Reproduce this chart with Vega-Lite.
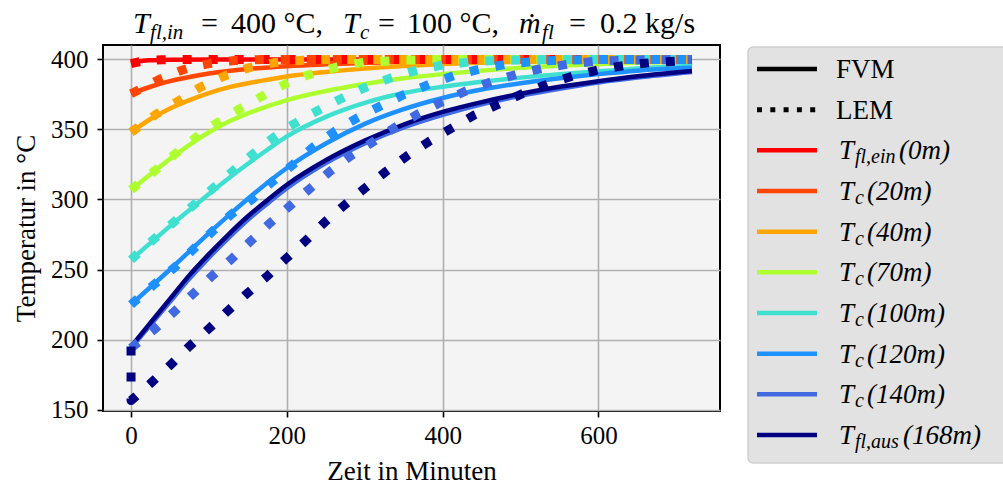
{
  "$schema": "https://vega.github.io/schema/vega-lite/v6.json",
  "autosize": {"type": "none"},
  "width": 617,
  "height": 366,
  "padding": {"left": 103, "top": 45, "right": 283, "bottom": 77},
  "background": "white",
  "config": {
    "view": {"stroke": "black", "strokeWidth": 2, "fill": "#f4f4f4"},
    "axis": {"labelFont": "Liberation Serif", "labelFontSize": 25, "labelColor": "black", "titleFont": "Liberation Serif", "titleFontSize": 27, "titleFontWeight": "normal", "titleColor": "black", "tickColor": "black", "tickWidth": 1.6, "tickSize": 6, "gridColor": "#b0b0b0", "gridWidth": 1.6, "gridOpacity": 1, "domain": false, "labelFlush": false, "labelOverlap": false},
    "text": {"font": "Liberation Serif", "color": "black"}
  },
  "datasets": {
    "curves": [
      {"s":"0m","m":"FVM","t":0,"T":397},{"s":"0m","m":"FVM","t":10,"T":398.6},{"s":"0m","m":"FVM","t":25,"T":399.4},{"s":"0m","m":"FVM","t":50,"T":399.8},{"s":"0m","m":"FVM","t":100,"T":400},{"s":"0m","m":"FVM","t":720,"T":400},
      {"s":"0m","m":"LEM","t":0,"T":397},{"s":"0m","m":"LEM","t":15,"T":399},{"s":"0m","m":"LEM","t":40,"T":399.8},{"s":"0m","m":"LEM","t":100,"T":400},{"s":"0m","m":"LEM","t":720,"T":400},
      {"s":"20m","m":"FVM","t":0,"T":375.5},{"s":"20m","m":"FVM","t":25,"T":380.5},{"s":"20m","m":"FVM","t":50,"T":384.5},{"s":"20m","m":"FVM","t":75,"T":387.5},{"s":"20m","m":"FVM","t":100,"T":390},{"s":"20m","m":"FVM","t":125,"T":391.8},{"s":"20m","m":"FVM","t":150,"T":393.2},{"s":"20m","m":"FVM","t":200,"T":395.2},{"s":"20m","m":"FVM","t":250,"T":396.5},{"s":"20m","m":"FVM","t":300,"T":397.5},{"s":"20m","m":"FVM","t":400,"T":398.7},{"s":"20m","m":"FVM","t":500,"T":399.3},{"s":"20m","m":"FVM","t":720,"T":399.8},
      {"s":"20m","m":"LEM","t":0,"T":375.5},{"s":"20m","m":"LEM","t":20,"T":381},{"s":"20m","m":"LEM","t":35,"T":385.4},{"s":"20m","m":"LEM","t":50,"T":389},{"s":"20m","m":"LEM","t":65,"T":392.3},{"s":"20m","m":"LEM","t":80,"T":394.8},{"s":"20m","m":"LEM","t":100,"T":397},{"s":"20m","m":"LEM","t":133,"T":399.2},{"s":"20m","m":"LEM","t":170,"T":399.9},{"s":"20m","m":"LEM","t":720,"T":400},
      {"s":"40m","m":"FVM","t":0,"T":348},{"s":"40m","m":"FVM","t":25,"T":357.5},{"s":"40m","m":"FVM","t":50,"T":365},{"s":"40m","m":"FVM","t":75,"T":371},{"s":"40m","m":"FVM","t":100,"T":376},{"s":"40m","m":"FVM","t":125,"T":380},{"s":"40m","m":"FVM","t":150,"T":383},{"s":"40m","m":"FVM","t":175,"T":385.5},{"s":"40m","m":"FVM","t":200,"T":387.8},{"s":"40m","m":"FVM","t":250,"T":391},{"s":"40m","m":"FVM","t":300,"T":393.5},{"s":"40m","m":"FVM","t":350,"T":395.3},{"s":"40m","m":"FVM","t":400,"T":396.7},{"s":"40m","m":"FVM","t":500,"T":398.4},{"s":"40m","m":"FVM","t":600,"T":399.3},{"s":"40m","m":"FVM","t":720,"T":399.7},
      {"s":"40m","m":"LEM","t":0,"T":348},{"s":"40m","m":"LEM","t":31,"T":360.4},{"s":"40m","m":"LEM","t":61,"T":370.4},{"s":"40m","m":"LEM","t":88,"T":379.9},{"s":"40m","m":"LEM","t":120,"T":388.2},{"s":"40m","m":"LEM","t":152,"T":394.2},{"s":"40m","m":"LEM","t":185,"T":397.8},{"s":"40m","m":"LEM","t":220,"T":399.4},{"s":"40m","m":"LEM","t":260,"T":400},{"s":"40m","m":"LEM","t":720,"T":400},
      {"s":"70m","m":"FVM","t":0,"T":307},{"s":"70m","m":"FVM","t":25,"T":318},{"s":"70m","m":"FVM","t":50,"T":329},{"s":"70m","m":"FVM","t":75,"T":339},{"s":"70m","m":"FVM","t":100,"T":348},{"s":"70m","m":"FVM","t":125,"T":355.5},{"s":"70m","m":"FVM","t":150,"T":361.5},{"s":"70m","m":"FVM","t":175,"T":366.5},{"s":"70m","m":"FVM","t":200,"T":371},{"s":"70m","m":"FVM","t":250,"T":377.5},{"s":"70m","m":"FVM","t":300,"T":382.5},{"s":"70m","m":"FVM","t":350,"T":386.5},{"s":"70m","m":"FVM","t":400,"T":389.5},{"s":"70m","m":"FVM","t":450,"T":392},{"s":"70m","m":"FVM","t":500,"T":394},{"s":"70m","m":"FVM","t":550,"T":395.5},{"s":"70m","m":"FVM","t":600,"T":396.7},{"s":"70m","m":"FVM","t":650,"T":397.6},{"s":"70m","m":"FVM","t":720,"T":398.5},
      {"s":"70m","m":"LEM","t":0,"T":307},{"s":"70m","m":"LEM","t":25,"T":318},{"s":"70m","m":"LEM","t":50,"T":329.5},{"s":"70m","m":"LEM","t":75,"T":341},{"s":"70m","m":"LEM","t":100,"T":351},{"s":"70m","m":"LEM","t":125,"T":360},{"s":"70m","m":"LEM","t":150,"T":368},{"s":"70m","m":"LEM","t":175,"T":376},{"s":"70m","m":"LEM","t":200,"T":383},{"s":"70m","m":"LEM","t":225,"T":388.5},{"s":"70m","m":"LEM","t":250,"T":392.5},{"s":"70m","m":"LEM","t":275,"T":396},{"s":"70m","m":"LEM","t":300,"T":398},{"s":"70m","m":"LEM","t":350,"T":399.5},{"s":"70m","m":"LEM","t":400,"T":400},{"s":"70m","m":"LEM","t":720,"T":400},
      {"s":"100m","m":"FVM","t":0,"T":257},{"s":"100m","m":"FVM","t":25,"T":269},{"s":"100m","m":"FVM","t":50,"T":281},{"s":"100m","m":"FVM","t":75,"T":292.5},{"s":"100m","m":"FVM","t":100,"T":304},{"s":"100m","m":"FVM","t":125,"T":315},{"s":"100m","m":"FVM","t":150,"T":325.5},{"s":"100m","m":"FVM","t":175,"T":335.5},{"s":"100m","m":"FVM","t":200,"T":345},{"s":"100m","m":"FVM","t":250,"T":359},{"s":"100m","m":"FVM","t":300,"T":369},{"s":"100m","m":"FVM","t":350,"T":376},{"s":"100m","m":"FVM","t":400,"T":380.5},{"s":"100m","m":"FVM","t":450,"T":384},{"s":"100m","m":"FVM","t":500,"T":387},{"s":"100m","m":"FVM","t":550,"T":389.5},{"s":"100m","m":"FVM","t":600,"T":391.5},{"s":"100m","m":"FVM","t":650,"T":393.5},{"s":"100m","m":"FVM","t":720,"T":395.5},
      {"s":"100m","m":"LEM","t":0,"T":257},{"s":"100m","m":"LEM","t":25,"T":269.5},{"s":"100m","m":"LEM","t":50,"T":281.5},{"s":"100m","m":"LEM","t":75,"T":293.5},{"s":"100m","m":"LEM","t":100,"T":305.5},{"s":"100m","m":"LEM","t":125,"T":317.5},{"s":"100m","m":"LEM","t":150,"T":329.5},{"s":"100m","m":"LEM","t":175,"T":341},{"s":"100m","m":"LEM","t":200,"T":351},{"s":"100m","m":"LEM","t":225,"T":359},{"s":"100m","m":"LEM","t":250,"T":366.5},{"s":"100m","m":"LEM","t":275,"T":373.5},{"s":"100m","m":"LEM","t":300,"T":379.8},{"s":"100m","m":"LEM","t":336,"T":387.3},{"s":"100m","m":"LEM","t":368,"T":392.5},{"s":"100m","m":"LEM","t":400,"T":396},{"s":"100m","m":"LEM","t":440,"T":398.5},{"s":"100m","m":"LEM","t":480,"T":399.5},{"s":"100m","m":"LEM","t":550,"T":400},{"s":"100m","m":"LEM","t":720,"T":400},
      {"s":"120m","m":"FVM","t":0,"T":225},{"s":"120m","m":"FVM","t":25,"T":237.5},{"s":"120m","m":"FVM","t":50,"T":250},{"s":"120m","m":"FVM","t":75,"T":263},{"s":"120m","m":"FVM","t":100,"T":276},{"s":"120m","m":"FVM","t":125,"T":288.5},{"s":"120m","m":"FVM","t":150,"T":300.5},{"s":"120m","m":"FVM","t":175,"T":312},{"s":"120m","m":"FVM","t":200,"T":322.5},{"s":"120m","m":"FVM","t":250,"T":340},{"s":"120m","m":"FVM","t":300,"T":354},{"s":"120m","m":"FVM","t":350,"T":364.5},{"s":"120m","m":"FVM","t":400,"T":372.5},{"s":"120m","m":"FVM","t":450,"T":378.5},{"s":"120m","m":"FVM","t":500,"T":383},{"s":"120m","m":"FVM","t":550,"T":386.5},{"s":"120m","m":"FVM","t":600,"T":389.5},{"s":"120m","m":"FVM","t":650,"T":392},{"s":"120m","m":"FVM","t":720,"T":394},
      {"s":"120m","m":"LEM","t":0,"T":225},{"s":"120m","m":"LEM","t":29,"T":239},{"s":"120m","m":"LEM","t":57,"T":252},{"s":"120m","m":"LEM","t":82,"T":265.5},{"s":"120m","m":"LEM","t":106,"T":278},{"s":"120m","m":"LEM","t":129,"T":289.5},{"s":"120m","m":"LEM","t":155,"T":300},{"s":"120m","m":"LEM","t":180,"T":312},{"s":"120m","m":"LEM","t":208,"T":325},{"s":"120m","m":"LEM","t":234,"T":337.5},{"s":"120m","m":"LEM","t":261,"T":348.5},{"s":"120m","m":"LEM","t":291,"T":358.4},{"s":"120m","m":"LEM","t":321,"T":367},{"s":"120m","m":"LEM","t":351,"T":375.1},{"s":"120m","m":"LEM","t":383,"T":382.3},{"s":"120m","m":"LEM","t":415,"T":388.5},{"s":"120m","m":"LEM","t":447,"T":393},{"s":"120m","m":"LEM","t":482,"T":396.6},{"s":"120m","m":"LEM","t":520,"T":398.8},{"s":"120m","m":"LEM","t":560,"T":399.6},{"s":"120m","m":"LEM","t":600,"T":400},{"s":"120m","m":"LEM","t":720,"T":400},
      {"s":"140m","m":"FVM","t":0,"T":194},{"s":"140m","m":"FVM","t":25,"T":210.5},{"s":"140m","m":"FVM","t":50,"T":227},{"s":"140m","m":"FVM","t":75,"T":243.5},{"s":"140m","m":"FVM","t":100,"T":258.5},{"s":"140m","m":"FVM","t":125,"T":272.5},{"s":"140m","m":"FVM","t":150,"T":285.5},{"s":"140m","m":"FVM","t":175,"T":297},{"s":"140m","m":"FVM","t":200,"T":308},{"s":"140m","m":"FVM","t":250,"T":326},{"s":"140m","m":"FVM","t":300,"T":340},{"s":"140m","m":"FVM","t":350,"T":351.5},{"s":"140m","m":"FVM","t":400,"T":360.5},{"s":"140m","m":"FVM","t":450,"T":368},{"s":"140m","m":"FVM","t":500,"T":374},{"s":"140m","m":"FVM","t":550,"T":379},{"s":"140m","m":"FVM","t":600,"T":383.5},{"s":"140m","m":"FVM","t":650,"T":387},{"s":"140m","m":"FVM","t":720,"T":391},
      {"s":"140m","m":"LEM","t":0,"T":194},{"s":"140m","m":"LEM","t":29,"T":206.8},{"s":"140m","m":"LEM","t":54,"T":219.2},{"s":"140m","m":"LEM","t":78,"T":231.8},{"s":"140m","m":"LEM","t":103,"T":244.9},{"s":"140m","m":"LEM","t":129,"T":257.5},{"s":"140m","m":"LEM","t":153,"T":270},{"s":"140m","m":"LEM","t":178,"T":283},{"s":"140m","m":"LEM","t":204,"T":295.5},{"s":"140m","m":"LEM","t":230,"T":308},{"s":"140m","m":"LEM","t":255,"T":319.9},{"s":"140m","m":"LEM","t":283,"T":331.5},{"s":"140m","m":"LEM","t":311,"T":341.3},{"s":"140m","m":"LEM","t":339,"T":351.5},{"s":"140m","m":"LEM","t":368,"T":361},{"s":"140m","m":"LEM","t":398,"T":369.4},{"s":"140m","m":"LEM","t":430,"T":377.5},{"s":"140m","m":"LEM","t":462,"T":384},{"s":"140m","m":"LEM","t":495,"T":389.4},{"s":"140m","m":"LEM","t":527,"T":393.5},{"s":"140m","m":"LEM","t":561,"T":396.6},{"s":"140m","m":"LEM","t":595,"T":398.6},{"s":"140m","m":"LEM","t":640,"T":399.6},{"s":"140m","m":"LEM","t":720,"T":400},
      {"s":"168m","m":"FVM","t":0,"T":195},{"s":"168m","m":"FVM","t":25,"T":212},{"s":"168m","m":"FVM","t":50,"T":229},{"s":"168m","m":"FVM","t":75,"T":246},{"s":"168m","m":"FVM","t":100,"T":261},{"s":"168m","m":"FVM","t":125,"T":275},{"s":"168m","m":"FVM","t":150,"T":288},{"s":"168m","m":"FVM","t":175,"T":299.5},{"s":"168m","m":"FVM","t":200,"T":310.5},{"s":"168m","m":"FVM","t":250,"T":328},{"s":"168m","m":"FVM","t":300,"T":342},{"s":"168m","m":"FVM","t":350,"T":353.5},{"s":"168m","m":"FVM","t":400,"T":362.5},{"s":"168m","m":"FVM","t":450,"T":369.5},{"s":"168m","m":"FVM","t":500,"T":375.5},{"s":"168m","m":"FVM","t":550,"T":380.5},{"s":"168m","m":"FVM","t":600,"T":384.5},{"s":"168m","m":"FVM","t":650,"T":388},{"s":"168m","m":"FVM","t":720,"T":391.8},
      {"s":"168m","m":"LEM","t":0,"T":195},{"s":"168m","m":"LEM","t":0,"T":156.5},{"s":"168m","m":"LEM","t":24,"T":168.2},{"s":"168m","m":"LEM","t":49,"T":181},{"s":"168m","m":"LEM","t":73,"T":194.2},{"s":"168m","m":"LEM","t":98,"T":206.8},{"s":"168m","m":"LEM","t":123,"T":219.9},{"s":"168m","m":"LEM","t":148,"T":232.5},{"s":"168m","m":"LEM","t":174,"T":244.9},{"s":"168m","m":"LEM","t":198,"T":257.3},{"s":"168m","m":"LEM","t":224,"T":270.5},{"s":"168m","m":"LEM","t":249,"T":284},{"s":"168m","m":"LEM","t":274,"T":296},{"s":"168m","m":"LEM","t":300,"T":308},{"s":"168m","m":"LEM","t":327,"T":319.9},{"s":"168m","m":"LEM","t":354,"T":331},{"s":"168m","m":"LEM","t":382,"T":341.3},{"s":"168m","m":"LEM","t":411,"T":350.8},{"s":"168m","m":"LEM","t":441,"T":360.4},{"s":"168m","m":"LEM","t":472,"T":368},{"s":"168m","m":"LEM","t":504,"T":375.9},{"s":"168m","m":"LEM","t":535,"T":382.5},{"s":"168m","m":"LEM","t":567,"T":388.2},{"s":"168m","m":"LEM","t":600,"T":392.5},{"s":"168m","m":"LEM","t":633,"T":395.6},{"s":"168m","m":"LEM","t":667,"T":397.7},{"s":"168m","m":"LEM","t":702,"T":398.9},{"s":"168m","m":"LEM","t":720,"T":399.3}
    ],
    "legend": [
      {"s":"FVM","sub":"","p":""},
      {"s":"LEM","sub":"","p":""},
      {"s":"0m","sub":"fl,ein","p":"(0m)"},
      {"s":"20m","sub":"c","p":"(20m)"},
      {"s":"40m","sub":"c","p":"(40m)"},
      {"s":"70m","sub":"c","p":"(70m)"},
      {"s":"100m","sub":"c","p":"(100m)"},
      {"s":"120m","sub":"c","p":"(120m)"},
      {"s":"140m","sub":"c","p":"(140m)"},
      {"s":"168m","sub":"fl,aus","p":"(168m)"}
    ]
  },
  "resolve": {"scale": {"x": "independent", "y": "independent"}},
  "layer": [
    {
      "encoding": {
        "x": {"type": "quantitative", "scale": {"domain": [-36, 756], "nice": false, "zero": false}, "axis": {"values": [0, 200, 400, 600], "title": "Zeit in Minuten", "labelPadding": 6, "titlePadding": 10}},
        "y": {"type": "quantitative", "scale": {"domain": [149, 410.3], "nice": false, "zero": false}, "axis": {"values": [150, 200, 250, 300, 350, 400], "title": "Temperatur in °C", "labelPadding": 9, "titlePadding": 10}}
      },
      "layer": [
        {
          "data": {"name": "curves"},
          "transform": [{"filter": "datum.m === 'FVM'"}],
          "mark": {"type": "line", "strokeWidth": 4.5, "strokeCap": "butt", "interpolate": "monotone"},
          "encoding": {
            "x": {"field": "t", "type": "quantitative"},
            "y": {"field": "T", "type": "quantitative"},
            "color": {"field": "s", "type": "nominal", "scale": {"domain": ["0m","20m","40m","70m","100m","120m","140m","168m"], "range": ["#ff0000","#ff4500","#ffa500","#adff2f","#40e0d0","#1e90ff","#4169e1","#000080"]}, "legend": null},
            "order": {"value": null}
          }
        },
        {
          "data": {"name": "curves"},
          "transform": [{"filter": "datum.m === 'LEM'"}],
          "mark": {"type": "line", "strokeWidth": 9, "strokeDash": [9, 17], "strokeCap": "butt", "strokeJoin": "round", "interpolate": "linear"},
          "encoding": {
            "x": {"field": "t", "type": "quantitative"},
            "y": {"field": "T", "type": "quantitative"},
            "color": {"field": "s", "type": "nominal", "scale": {"domain": ["0m","20m","40m","70m","100m","120m","140m","168m"], "range": ["#ff0000","#ff4500","#ffa500","#adff2f","#40e0d0","#1e90ff","#4169e1","#000080"]}, "legend": null},
            "order": {"value": null}
          }
        },
        {"data": {"values": [{}]}, "mark": {"type": "text", "text": "T", "fontStyle": "italic", "fontSize": 30, "align": "left", "baseline": "alphabetic", "dx": 2}, "encoding": {"x": {"datum": 0, "type": "quantitative"}, "y": {"datum": 419, "type": "quantitative"}}},
        {"data": {"values": [{}]}, "mark": {"type": "text", "text": "fl,in", "fontStyle": "italic", "fontSize": 21, "align": "left", "baseline": "alphabetic", "dx": 19, "dy": 6}, "encoding": {"x": {"datum": 0, "type": "quantitative"}, "y": {"datum": 419, "type": "quantitative"}}},
        {"data": {"values": [{}]}, "mark": {"type": "text", "text": "=", "fontSize": 30, "align": "left", "baseline": "alphabetic", "dx": 70}, "encoding": {"x": {"datum": 0, "type": "quantitative"}, "y": {"datum": 419, "type": "quantitative"}}},
        {"data": {"values": [{}]}, "mark": {"type": "text", "text": "400 °C,", "fontSize": 30, "align": "left", "baseline": "alphabetic", "dx": 100}, "encoding": {"x": {"datum": 0, "type": "quantitative"}, "y": {"datum": 419, "type": "quantitative"}}},
        {"data": {"values": [{}]}, "mark": {"type": "text", "text": "T", "fontStyle": "italic", "fontSize": 30, "align": "left", "baseline": "alphabetic", "dx": 212}, "encoding": {"x": {"datum": 0, "type": "quantitative"}, "y": {"datum": 419, "type": "quantitative"}}},
        {"data": {"values": [{}]}, "mark": {"type": "text", "text": "c", "fontStyle": "italic", "fontSize": 21, "align": "left", "baseline": "alphabetic", "dx": 229, "dy": 6}, "encoding": {"x": {"datum": 0, "type": "quantitative"}, "y": {"datum": 419, "type": "quantitative"}}},
        {"data": {"values": [{}]}, "mark": {"type": "text", "text": "=", "fontSize": 30, "align": "left", "baseline": "alphabetic", "dx": 247}, "encoding": {"x": {"datum": 0, "type": "quantitative"}, "y": {"datum": 419, "type": "quantitative"}}},
        {"data": {"values": [{}]}, "mark": {"type": "text", "text": "100 °C,", "fontSize": 30, "align": "left", "baseline": "alphabetic", "dx": 276}, "encoding": {"x": {"datum": 0, "type": "quantitative"}, "y": {"datum": 419, "type": "quantitative"}}},
        {"data": {"values": [{}]}, "mark": {"type": "text", "text": "ṁ", "fontStyle": "italic", "fontSize": 30, "align": "left", "baseline": "alphabetic", "dx": 388}, "encoding": {"x": {"datum": 0, "type": "quantitative"}, "y": {"datum": 419, "type": "quantitative"}}},
        {"data": {"values": [{}]}, "mark": {"type": "text", "text": "fl", "fontStyle": "italic", "fontSize": 21, "align": "left", "baseline": "alphabetic", "dx": 411, "dy": 6}, "encoding": {"x": {"datum": 0, "type": "quantitative"}, "y": {"datum": 419, "type": "quantitative"}}},
        {"data": {"values": [{}]}, "mark": {"type": "text", "text": "=", "fontSize": 30, "align": "left", "baseline": "alphabetic", "dx": 438}, "encoding": {"x": {"datum": 0, "type": "quantitative"}, "y": {"datum": 419, "type": "quantitative"}}},
        {"data": {"values": [{}]}, "mark": {"type": "text", "text": "0.2 kg/s", "fontSize": 30, "align": "left", "baseline": "alphabetic", "dx": 469}, "encoding": {"x": {"datum": 0, "type": "quantitative"}, "y": {"datum": 419, "type": "quantitative"}}}
      ]
    },
    {
      "data": {"name": "legend"},
      "encoding": {
        "x": {"type": "quantitative", "scale": {"domain": [0, 255], "range": [645, 900]}, "axis": null},
        "y": {"type": "nominal", "scale": {"type": "point", "domain": ["FVM","LEM","0m","20m","40m","70m","100m","120m","140m","168m"], "range": [24, 390], "padding": 0}, "axis": null}
      },
      "layer": [
        {"data": {"values": [{}]}, "mark": {"type": "rect", "fill": "#e2e2e2", "stroke": "#cfcfcf", "strokeWidth": 1.5, "cornerRadius": 5, "yOffset": -22, "y2Offset": 28}, "encoding": {"x": {"datum": 0, "type": "quantitative"}, "x2": {"datum": 262}, "y": {"datum": "FVM", "type": "nominal"}, "y2": {"datum": "168m"}}},
        {"transform": [{"filter": "datum.s === 'FVM'"}], "mark": {"type": "rule", "strokeWidth": 4.5, "color": "black", "strokeCap": "butt"}, "encoding": {"x": {"datum": 9, "type": "quantitative"}, "x2": {"datum": 69}, "y": {"field": "s", "type": "nominal"}}},
        {"transform": [{"filter": "datum.s === 'LEM'"}], "mark": {"type": "rule", "strokeWidth": 5, "color": "black", "strokeDash": [5, 8.3], "strokeCap": "butt"}, "encoding": {"x": {"datum": 9, "type": "quantitative"}, "x2": {"datum": 69}, "y": {"field": "s", "type": "nominal"}}},
        {"transform": [{"filter": "datum.sub !== ''"}], "mark": {"type": "rule", "strokeWidth": 4.5, "strokeCap": "butt"}, "encoding": {"x": {"datum": 9, "type": "quantitative"}, "x2": {"datum": 69}, "y": {"field": "s", "type": "nominal"}, "color": {"field": "s", "type": "nominal", "scale": {"domain": ["0m","20m","40m","70m","100m","120m","140m","168m"], "range": ["#ff0000","#ff4500","#ffa500","#adff2f","#40e0d0","#1e90ff","#4169e1","#000080"]}, "legend": null}}},
        {"transform": [{"filter": "datum.sub === ''"}], "mark": {"type": "text", "fontSize": 27, "align": "left", "baseline": "alphabetic", "dy": 9}, "encoding": {"x": {"datum": 88, "type": "quantitative"}, "y": {"field": "s", "type": "nominal"}, "text": {"field": "s"}}},
        {"transform": [{"filter": "datum.sub !== ''"}], "mark": {"type": "text", "text": "T", "fontStyle": "italic", "fontSize": 27, "align": "left", "baseline": "alphabetic", "dy": 9}, "encoding": {"x": {"datum": 91, "type": "quantitative"}, "y": {"field": "s", "type": "nominal"}}},
        {"transform": [{"filter": "datum.sub !== ''"}], "mark": {"type": "text", "fontStyle": "italic", "fontSize": 20, "align": "left", "baseline": "alphabetic", "dy": 13}, "encoding": {"x": {"datum": 107, "type": "quantitative"}, "y": {"field": "s", "type": "nominal"}, "text": {"field": "sub"}}},
        {"transform": [{"filter": "datum.sub === 'c'"}], "mark": {"type": "text", "fontStyle": "italic", "fontSize": 27, "align": "left", "baseline": "alphabetic", "dy": 9}, "encoding": {"x": {"datum": 119, "type": "quantitative"}, "y": {"field": "s", "type": "nominal"}, "text": {"field": "p"}}},
        {"transform": [{"filter": "datum.sub === 'fl,ein'"}], "mark": {"type": "text", "fontStyle": "italic", "fontSize": 27, "align": "left", "baseline": "alphabetic", "dy": 9}, "encoding": {"x": {"datum": 151, "type": "quantitative"}, "y": {"field": "s", "type": "nominal"}, "text": {"field": "p"}}},
        {"transform": [{"filter": "datum.sub === 'fl,aus'"}], "mark": {"type": "text", "fontStyle": "italic", "fontSize": 27, "align": "left", "baseline": "alphabetic", "dy": 9}, "encoding": {"x": {"datum": 155, "type": "quantitative"}, "y": {"field": "s", "type": "nominal"}, "text": {"field": "p"}}}
      ]
    }
  ]
}
